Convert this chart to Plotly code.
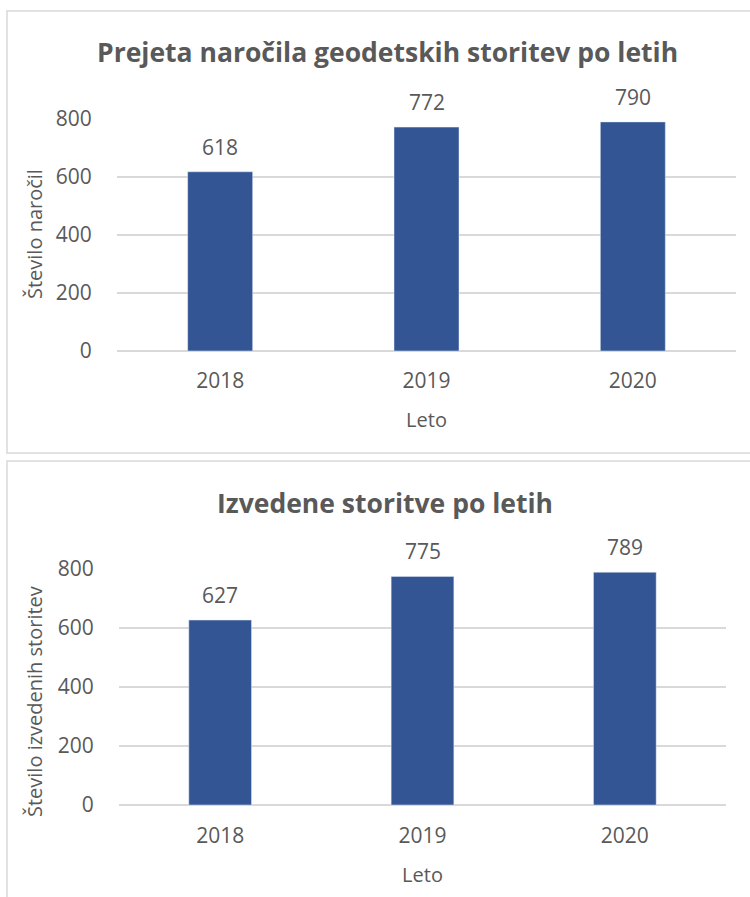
import plotly.graph_objects as go

years = ["2018", "2019", "2020"]
orders = [618, 772, 790]
services = [627, 775, 789]
title_top = "Prejeta naročila geodetskih storitev po letih"
title_bottom = "Izvedene storitve po letih"
ytitle_top = "Število naročil"
ytitle_bottom = "Število izvedenih storitev"
xtitle = "Leto"
yticks = [0, 200, 400, 600, 800]

W, H = 750, 897
BAR = "#335593"
TXT = "#595959"
GRID = "#d9d9d9"
FONT = "Open Sans"

def px(x):
    return x / W

def py(y):
    return 1 - y / H

fig = go.Figure()
fig.add_trace(go.Bar(x=years, y=orders, marker_color=BAR, width=0.315,
                     xaxis="x", yaxis="y", showlegend=False, hoverinfo="skip"))
fig.add_trace(go.Bar(x=years, y=services, marker_color=BAR, width=0.31,
                     xaxis="x2", yaxis="y2", showlegend=False, hoverinfo="skip"))

ax_common = dict(showline=False, automargin=False,
                 tickfont=dict(size=21, color=TXT, family=FONT))
fig.update_layout(
    width=W, height=H,
    autosize=False,
    margin=dict(l=0, r=0, t=0, b=0, pad=0),
    paper_bgcolor="white", plot_bgcolor="white",
    font=dict(family=FONT, color=TXT),
    xaxis=dict(domain=[px(117), px(736)], anchor="y", type="category",
               range=[-0.5, 2.5], ticks="outside", ticklen=11, tickcolor="rgba(0,0,0,0)",
               **ax_common,
               title=dict(text=xtitle, font=dict(size=20, color=TXT), standoff=19)),
    yaxis=dict(domain=[py(351), py(119)], anchor="x", range=[0, 800],
               tickvals=yticks, showgrid=True, gridcolor=GRID, gridwidth=1.5,
               zeroline=True, zerolinecolor=GRID, zerolinewidth=1.5,
               ticks="outside", ticklen=20, tickcolor="rgba(0,0,0,0)", **ax_common),
    xaxis2=dict(domain=[px(119), px(726)], anchor="y2", type="category",
                range=[-0.5, 2.5], ticks="outside", ticklen=12, tickcolor="rgba(0,0,0,0)",
                **ax_common,
                title=dict(text=xtitle, font=dict(size=20, color=TXT), standoff=19)),
    yaxis2=dict(domain=[py(805), py(569)], anchor="x2", range=[0, 800],
                tickvals=yticks, showgrid=True, gridcolor=GRID, gridwidth=1.5,
                zeroline=True, zerolinecolor=GRID, zerolinewidth=1.5,
                ticks="outside", ticklen=20, tickcolor="rgba(0,0,0,0)", **ax_common),
)

annotations = []
for xa, ya, vals in (("x", "y", orders), ("x2", "y2", services)):
    for i, v in enumerate(vals):
        annotations.append(dict(x=i, y=v, xref=xa, yref=ya, text=str(v),
                                showarrow=False, yanchor="bottom", yshift=9,
                                font=dict(size=21, color=TXT, family=FONT)))
annotations.append(dict(x=px(387), y=py(52), xref="paper", yref="paper",
                        text="<b>" + title_top + "</b>", showarrow=False,
                        xanchor="center", yanchor="middle",
                        font=dict(size=26.5, color=TXT, family=FONT)))
annotations.append(dict(x=px(385), y=py(503), xref="paper", yref="paper",
                        text="<b>" + title_bottom + "</b>", showarrow=False,
                        xanchor="center", yanchor="middle",
                        font=dict(size=26.5, color=TXT, family=FONT)))
annotations.append(dict(x=px(34), y=py(234), xref="paper", yref="paper",
                        text=ytitle_top, textangle=-90, showarrow=False,
                        xanchor="center", yanchor="middle",
                        font=dict(size=20, color=TXT, family=FONT)))
annotations.append(dict(x=px(34), y=py(702), xref="paper", yref="paper",
                        text=ytitle_bottom, textangle=-90, showarrow=False,
                        xanchor="center", yanchor="middle",
                        font=dict(size=20, color=TXT, family=FONT)))
fig.update_layout(annotations=annotations)

border = dict(color=GRID, width=1.5)
fig.update_layout(shapes=[
    dict(type="rect", xref="paper", yref="paper", x0=px(7), x1=px(760),
         y0=py(453), y1=py(11), line=border, layer="below"),
    dict(type="rect", xref="paper", yref="paper", x0=px(7), x1=px(760),
         y0=py(910), y1=py(461), line=border, layer="below"),
])

fig.write_html("out.html", config={"displayModeBar": False},
               post_script="document.body.style.margin='0';document.body.style.overflow='hidden';")
